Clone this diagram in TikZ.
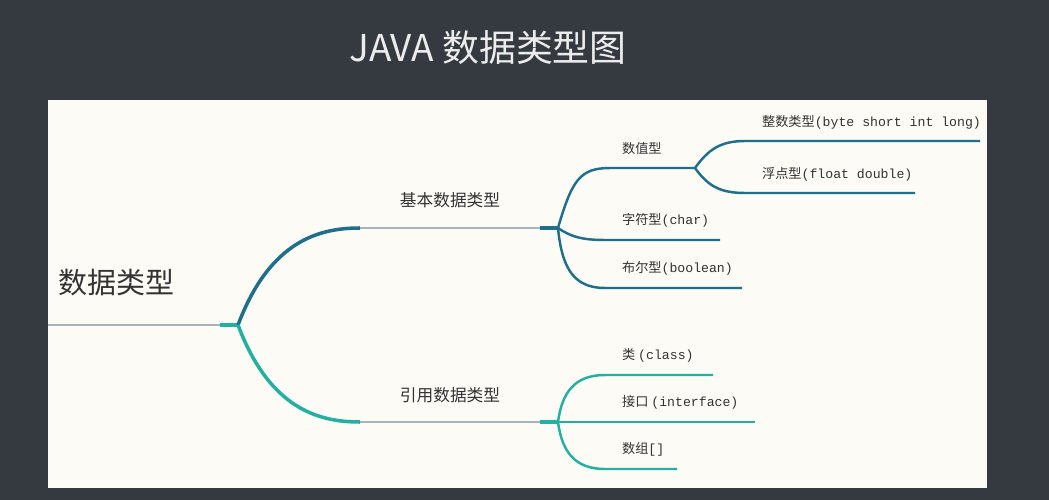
\documentclass[tikz,border=0pt]{standalone}
\usepackage{fontspec}
\setmainfont{Noto Sans CJK SC}
\newfontfamily\cjk{Noto Sans CJK SC}
\newfontfamily\mono{Liberation Mono}
\usetikzlibrary{positioning}
\definecolor{bgdark}{HTML}{343A40}
\definecolor{paper}{HTML}{FCFBF6}
\definecolor{deepteal}{HTML}{1F6F8B}
\definecolor{lightteal}{HTML}{24B0A0}
\definecolor{stem}{HTML}{A8B4BC}
\tikzset{
  leaf/.style={font=\cjk\fontsize{7.5}{9}\selectfont, anchor=south west, inner sep=1pt, text=black!80},
  mid/.style={font=\cjk\fontsize{9.5}{11}\selectfont, anchor=south, inner sep=2pt, text=black!80},
  up/.style={deepteal, line width=1.4pt},
  down/.style={lightteal, line width=1.4pt},
}
\begin{document}
\begin{tikzpicture}[x=0.02cm, y=-0.02cm]
    % Background and panel
    \fill[bgdark] (0,0) rectangle (1049,500);
    \useasboundingbox (0,0) rectangle (1049,500);
    \fill[paper] (48,100) rectangle (987,488);
    \node[text=white!85!gray, font=\fontsize{21}{25}\selectfont] (title) at (488,48) {JAVA 数据类型图};

    % Root
    \coordinate (r0) at (48,325);
    \coordinate (r1) at (220,325);
    \coordinate (rb) at (238,325);
    \node[anchor=south west, font=\cjk\fontsize{16.5}{20}\selectfont, text=black!80] (root) at (52,302) {数据类型};
    \draw[stem, line width=1pt] (r0) -- (r1);
    \draw[lightteal, line width=2.5pt] (r1) -- (rb);

    % Level one
    \coordinate (p0) at (360,228); \coordinate (p1) at (540,228); \coordinate (pb) at (558,228);
    \coordinate (q0) at (360,422); \coordinate (q1) at (540,422); \coordinate (qb) at (558,422);
    \draw[deepteal, line width=2pt] (rb) .. controls (270,240) and (320,228) .. (p0);
    \draw[lightteal, line width=2pt] (rb) .. controls (270,410) and (320,422) .. (q0);
    \draw[stem, line width=1pt] (p0) -- (p1);
    \draw[stem, line width=1pt] (q0) -- (q1);
    \draw[deepteal, line width=2.5pt] (p1) -- (pb);
    \draw[lightteal, line width=2.5pt] (q1) -- (qb);
    \node[mid] (basic) at (450,212) {基本数据类型};
    \node[mid] (refer) at (450,407) {引用数据类型};

    % Basic types
    \coordinate (n0) at (610,168); \coordinate (nb) at (695,168);
    \draw[up] (pb) .. controls (572,180) and (580,168) .. (n0) -- (nb);
    \node[leaf] (num) at (620,157) {数值型};
    \coordinate (i0) at (745,141); \coordinate (i1) at (980,141);
    \coordinate (f0) at (745,193); \coordinate (f1) at (915,193);
    \draw[up] (nb) .. controls (708,150) and (720,141) .. (i0) -- (i1);
    \draw[up] (nb) .. controls (708,186) and (720,193) .. (f0) -- (f1);
    \node[leaf] (int) at (760,131) {整数类型{\mono(byte short int long)}};
    \node[leaf] (flt) at (760,183) {浮点型{\mono(float double)}};
    \coordinate (c0) at (605,240); \coordinate (c1) at (720,240);
    \coordinate (b0) at (605,288); \coordinate (b1) at (742,288);
    \draw[up] (pb) .. controls (570,236) and (580,240) .. (c0) -- (c1);
    \draw[up] (pb) .. controls (562,270) and (575,288) .. (b0) -- (b1);
    \node[leaf] (chr) at (620,229) {字符型{\mono(char)}};
    \node[leaf] (bool) at (620,277) {布尔型{\mono(boolean)}};

    % Reference types
    \coordinate (k0) at (605,375); \coordinate (k1) at (713,375);
    \coordinate (j1) at (755,422);
    \coordinate (a0) at (605,469); \coordinate (a1) at (677,469);
    \draw[down] (qb) .. controls (562,392) and (575,375) .. (k0) -- (k1);
    \draw[down] (qb) -- (j1);
    \draw[down] (qb) .. controls (562,452) and (575,469) .. (a0) -- (a1);
    \node[leaf] (cls) at (620,364) {类 {\mono(class)}};
    \node[leaf] (ifc) at (620,411) {接口 {\mono(interface)}};
    \node[leaf] (arr) at (620,458) {数组{\mono[]}};
\end{tikzpicture}
\end{document}
